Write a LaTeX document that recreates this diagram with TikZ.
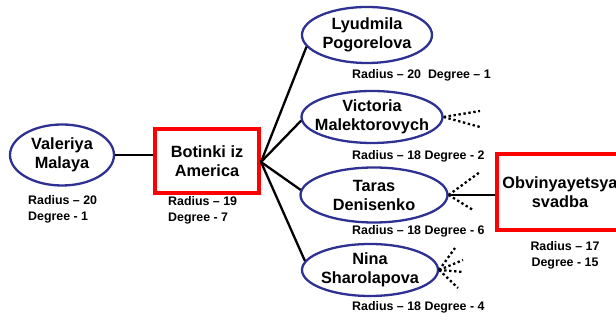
\documentclass[tikz,border=0pt]{standalone}
\usepackage{fontspec}
\setmainfont{Liberation Sans}
\usetikzlibrary{shapes.geometric}
\definecolor{ellblue}{HTML}{2E3192}
\tikzset{
  x=1pt, y=1pt,
  person/.style={ellipse, draw=ellblue, line width=2.3pt, inner xsep=-30pt, inner ysep=-14pt, align=center,
     font=\bfseries\fontsize{16.3}{19}\selectfont},
  film/.style={rectangle, draw=red, line width=4pt, inner sep=0pt, align=center,
     font=\bfseries\fontsize{16.3}{19}\selectfont},
  lbl/.style={inner sep=0pt, align=left, font=\bfseries\fontsize{12.4}{16}\selectfont},
  conn/.style={line width=2.3pt, black},
  dotconn/.style={line width=2.3pt, black, dash pattern=on 2.4pt off 2.6pt},
}
\begin{document}
\begin{tikzpicture}
\useasboundingbox (0,0) rectangle (616,320);
% nodes
\node[person, minimum width=104, minimum height=61] (val) at (62,165) {Valeriya\\Malaya};
\node[film, minimum width=104, minimum height=64] (bot) at (207,159) {Botinki iz\\America};
\node[person, minimum width=130, minimum height=56] (lyu) at (367,285) {Lyudmila\\Pogorelova};
\node[person, minimum width=141, minimum height=52] (vic) at (372,203) {Victoria\\Malektorovych};
\node[person, minimum width=147, minimum height=55] (tar) at (374,125) {Taras\\Denisenko};
\node[person, minimum width=136, minimum height=52] (nin) at (370,50) {Nina\\Sharolapova};
\node[film, minimum width=126, minimum height=76] (obv) at (560,128) {Obvinyayetsya\\svadba};
% labels
\node[lbl, anchor=north west] (lval) at (28,125) {Radius -- 20\\Degree - 1};
\node[lbl, anchor=north west] (lbot) at (168,124) {Radius -- 19\\Degree - 7};
\node[lbl, anchor=west] (llyu) at (352,245) {Radius -- 20\ \ Degree -- 1};
\node[lbl, anchor=west] (lvic) at (352,164) {Radius -- 18 Degree - 2};
\node[lbl, anchor=west] (ltar) at (352,89) {Radius -- 18 Degree - 6};
\node[lbl, anchor=west] (lnin) at (352,13) {Radius -- 18 Degree - 4};
\node[lbl, align=center, anchor=north] (lobv) at (565,79) {Radius -- 17\\Degree - 15};
% free ends of dotted lines
\coordinate (v1) at (480,209);
\coordinate (v2) at (480,193);
\coordinate (t1) at (480,148);
\coordinate (t2) at (473,110);
\coordinate (n1) at (455,72);
\coordinate (n2) at (463,60);
\coordinate (n3) at (463,48);
\coordinate (n4) at (458,32);
% connectors
\draw[conn] (val.east) -- (val.east -| bot.west);
\coordinate (bs) at ([yshift=-1pt]bot.east);
\draw[conn] (bs) -- (lyu.191);
\draw[conn] (bs) -- (vic.183);
\draw[conn] (bs) -- (tar.176);
\draw[conn] (bs) -- (nin.172);
\draw[conn] (tar.east) -- (tar.east -| obv.west);
\draw[dotconn] (vic.east) -- (v1);
\draw[dotconn] (vic.east) -- (v2);
\draw[dotconn] (tar.east) -- (t1);
\draw[dotconn] (tar.east) -- (t2);
\draw[dotconn] (nin.east) -- (n1);
\draw[dotconn] (nin.east) -- (n2);
\draw[dotconn] (nin.east) -- (n3);
\draw[dotconn] (nin.east) -- (n4);
\end{tikzpicture}
\end{document}
